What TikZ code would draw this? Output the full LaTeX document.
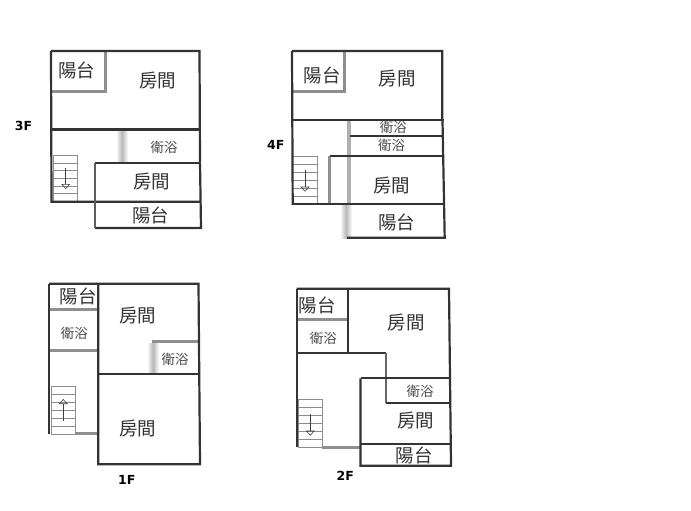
\documentclass[tikz,border=0pt]{standalone}
\usepackage{fontspec}
\setmainfont{Liberation Sans}
\newfontfamily\cjk{Noto Sans CJK TC}
\newfontfamily\lab{DejaVu Sans}[BoldFont={DejaVu Sans Bold}]
\usetikzlibrary{arrows.meta}
\definecolor{wallc}{gray}{0.2}
\definecolor{softc}{gray}{0.56}
\definecolor{treadc}{gray}{0.55}
\definecolor{blurc}{gray}{0.72}
\tikzset{
  wall/.style={draw=wallc,line width=2.2pt,line cap=square},
  thinwall/.style={draw=wallc,line width=1.7pt},
  softwall/.style={draw=softc,line width=3pt},
  tread/.style={draw=treadc,line width=0.8pt},
  walkdir/.style={draw=black!75,line width=0.6pt,-{Triangle[open,length=5pt,width=9pt]}},
  bigroom/.style={inner sep=0pt,text=black!80,font=\cjk\fontsize{18.5}{19}\selectfont},
  smallroom/.style={inner sep=0pt,text=black!70,font=\cjk\fontsize{13.5}{14}\selectfont},
  floorname/.style={inner sep=0pt,text=black,font=\lab\bfseries\fontsize{12.5}{13}\selectfont},
}
% #1 x-left, #2 x-right, #3 y-top, #4 y-bottom
\newcommand{\flightbox}[4]{%
  \draw[tread] (#1,#3) rectangle (#2,#4);
  \foreach \k in {1,...,5}{\draw[tread] (#1,{#3+(#4-#3)*\k/6}) -- (#2,{#3+(#4-#3)*\k/6});}
}
% #1 x-left, #2 x-right, #3 y-top, #4 y-bottom
\newcommand{\softband}[4]{%
  \shade[left color=white,right color=white,middle color=blurc,draw=none] (#1,#3) rectangle (#2,#4);
}
\begin{document}
\begin{tikzpicture}[x=1pt,y=-1pt]
\useasboundingbox[fill=white] (0,0) rectangle (691,511);

% ---------- 3F
\softband{116}{128}{130}{162}
\draw[softwall] (105,51) -- (105,92) -- (51,92);
\flightbox{53}{77}{155.3}{201.5}
\draw[wall] (51,51) -- (199.5,51) -- (200,162.7) (51,51) -- (51.5,201.7) -- (200.5,201.7);
\draw[wall] (51,129.5) -- (199.5,129.5);
\draw[thinwall] (95,162.7) -- (200,162.7);
\draw[wall] (200,162.7) -- (201,228) -- (95,228);
\draw[draw=wallc!80,line width=2.2pt] (95,162.7) -- (95,228);
\coordinate (a3s) at (65.7,168); \coordinate (a3e) at (65.7,189);
\draw[walkdir] (a3s) -- (a3e);
\node[bigroom] (n3a) at (76.7,70.7) {陽台};
\node[bigroom] (n3b) at (157.7,80.7) {房間};
\node[smallroom] (n3c) at (164,147) {衛浴};
\node[bigroom] (n3d) at (151.7,181.7) {房間};
\node[bigroom] (n3e) at (150.7,215) {陽台};
\node[floorname] (n3f) at (23.5,125.7) {3F};

% ---------- 4F
\softband{340}{352}{205}{238}
\draw[draw=softc!70,line width=4pt] (348.7,120) -- (348.7,205);
\draw[softwall] (344,51) -- (344,92) -- (292,92);
\draw[softwall] (329.3,156.3) -- (329.3,204);
\flightbox{292.7}{317.3}{156}{204}
\draw[wall] (292,51) -- (442.3,51) -- (442.3,120) (292,51) -- (292.7,205);
\draw[wall] (292,120) -- (444.3,120);
\draw[wall] (442.5,120) -- (444.7,237.7) -- (347,237.7);
\draw[wall] (293,204) -- (445,204);
\draw[thinwall] (350,136) -- (444,136);
\draw[thinwall] (330,156.3) -- (443,156.3);
\coordinate (a4s) at (305,170); \coordinate (a4e) at (305,191.7);
\draw[walkdir] (a4s) -- (a4e);
\node[bigroom] (n4a) at (322,75) {陽台};
\node[bigroom] (n4b) at (397.3,78.3) {房間};
\node[smallroom] (n4c) at (393.3,127.7) {衛浴};
\node[smallroom] (n4d) at (391.7,145.7) {衛浴};
\node[bigroom] (n4e) at (391.7,185.7) {房間};
\node[bigroom] (n4f) at (396.7,222.7) {陽台};
\node[floorname] (n4g) at (275.7,145) {4F};

% ---------- 1F
\softband{147}{159}{343}{373}
\draw[softwall] (50,309.3) -- (98,309.3);
\draw[softwall] (50,350) -- (98,350);
\draw[softwall] (76,433.5) -- (98,433.5);
\draw[softwall] (152,341.3) -- (198,341.3);
\flightbox{51.7}{75.7}{386.7}{434}
\draw[wall] (49,283.7) -- (198.5,283.7) -- (200,464.3) -- (98.3,464.3) -- (98.3,283.7);
\draw[wall] (49,283.7) -- (49,434.3);
\draw[wall] (98.3,373.7) -- (199,373.7);
\coordinate (a1s) at (63.3,420.7); \coordinate (a1e) at (63.3,399);
\draw[walkdir] (a1s) -- (a1e);
\node[bigroom] (n1a) at (78.3,296) {陽台};
\node[smallroom] (n1b) at (74.3,333.3) {衛浴};
\node[bigroom] (n1c) at (137.7,316) {房間};
\node[smallroom] (n1d) at (175,359.3) {衛浴};
\node[bigroom] (n1e) at (137.7,428.3) {房間};
\node[floorname] (n1f) at (126.7,480) {1F};

% ---------- 2F
\draw[softwall] (297,319) -- (348,319);
\draw[softwall] (322,447.3) -- (360,447.3);
\flightbox{298}{322.3}{399.3}{447}
\draw[wall] (296.7,288.7) -- (449,288.7) -- (451,465.7) -- (360.5,465.7) -- (360.5,378.3);
\draw[wall] (296.7,288.7) -- (296.7,447.3);
\draw[wall] (348.3,288.7) -- (348.3,353.3);
\draw[wall] (297,353.3) -- (385.7,353.3);
\draw[draw=wallc!75,line width=2.4pt] (385.7,353.3) -- (385.7,403.3);
\draw[wall] (360.5,378.3) -- (450,378.3);
\draw[wall] (385.7,403.3) -- (450,403.3);
\draw[wall] (361,444) -- (451,444);
\coordinate (a2s) at (310.3,414.3); \coordinate (a2e) at (310.3,435.7);
\draw[walkdir] (a2s) -- (a2e);
\node[bigroom] (n2a) at (317.3,305.3) {陽台};
\node[smallroom] (n2b) at (323.3,338.3) {衛浴};
\node[bigroom] (n2c) at (406,322.3) {房間};
\node[smallroom] (n2d) at (420,391) {衛浴};
\node[bigroom] (n2e) at (415.7,421) {房間};
\node[bigroom] (n2f) at (414.3,455) {陽台};
\node[floorname] (n2g) at (345.3,476) {2F};
\end{tikzpicture}
\end{document}
